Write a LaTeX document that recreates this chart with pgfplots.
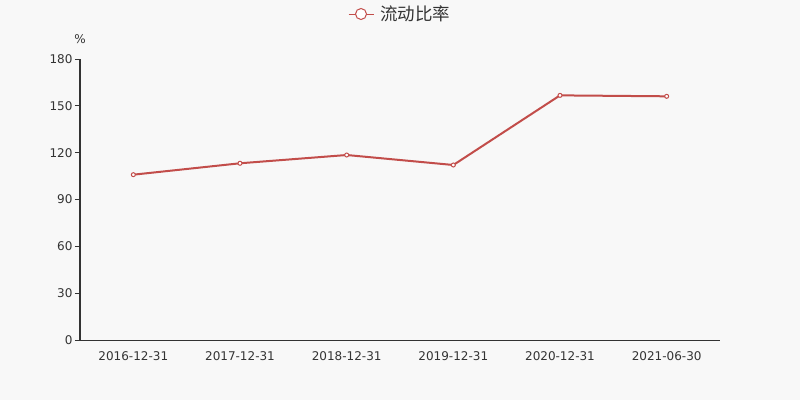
\documentclass[border=0pt]{standalone}
\usepackage{pgfplots}
\pgfplotsset{compat=1.18}
\usetikzlibrary{backgrounds,calc}
\usepackage{fontspec}
\setmainfont{DejaVu Sans}
\newfontfamily\cjk{Noto Sans CJK SC}
\definecolor{bg}{RGB}{248,248,248}
\definecolor{ln}{RGB}{194,77,74}
\definecolor{txt}{RGB}{51,51,51}
\begin{document}
\begin{tikzpicture}[x=1pt,y=1pt]
\begin{axis}[
  scale only axis, width=640pt, height=281pt,
  xmin=-0.5, xmax=5.5, ymin=0, ymax=180,
  axis lines=left, axis line style={-, txt, line width=1pt},
  xtick={0,1,2,3,4,5},
  xticklabels={2016-12-31,2017-12-31,2018-12-31,2019-12-31,2020-12-31,2021-06-30},
  major x tick style={draw=none},
  extra x ticks={-0.5,0.5,1.5,2.5,3.5,4.5,5.5},
  extra x tick labels={},
  extra x tick style={tick style={draw=txt, line width=1pt}, major tick length=5pt},
  ytick={0,30,60,90,120,150,180},
  tick align=outside, major tick length=5pt,
  y tick style={draw=txt, line width=1pt},
  tick label style={font=\fontsize{12}{14}\selectfont, text=txt},
  /pgf/number format/assume math mode=true,
  yticklabel style={xshift=1pt},
  xticklabel style={yshift=-3pt},
  ylabel={\%},
  ylabel style={rotate=-90, at={(rel axis cs:0,1)}, anchor=south, yshift=12pt, font=\fontsize{12}{14}\selectfont, text=txt},
  legend style={at={(rel axis cs:0.5,1)}, anchor=center, yshift=45pt, xshift=0pt, draw=none, fill=none, font=\fontsize{17.5}{20}\selectfont\cjk, text=txt},
  legend image code/.code={\draw[ln, line width=1pt] (0pt,0pt) -- (25pt,0pt); \draw[ln, fill=white, line width=1pt] (12.5pt,0pt) circle (5.5pt);},
  clip=false,
]
\addplot[ln, line width=2pt, mark=*, mark size=2pt, mark options={fill=white, draw=ln, line width=1pt}]
  coordinates {(0,105.9) (1,113.2) (2,118.5) (3,112.1) (4,156.7) (5,156.1)};
\addlegendentry{\hspace{4pt}流动比率}
\coordinate (O) at (rel axis cs:0,0);
\end{axis}
\pgfresetboundingbox
\path[use as bounding box] ($(O)+(-80,-60)$) rectangle ++(800,400);
\begin{pgfonlayer}{background}
\fill[bg] ($(O)+(-80,-60)$) rectangle ++(800,400);
\end{pgfonlayer}
\end{tikzpicture}
\end{document}
